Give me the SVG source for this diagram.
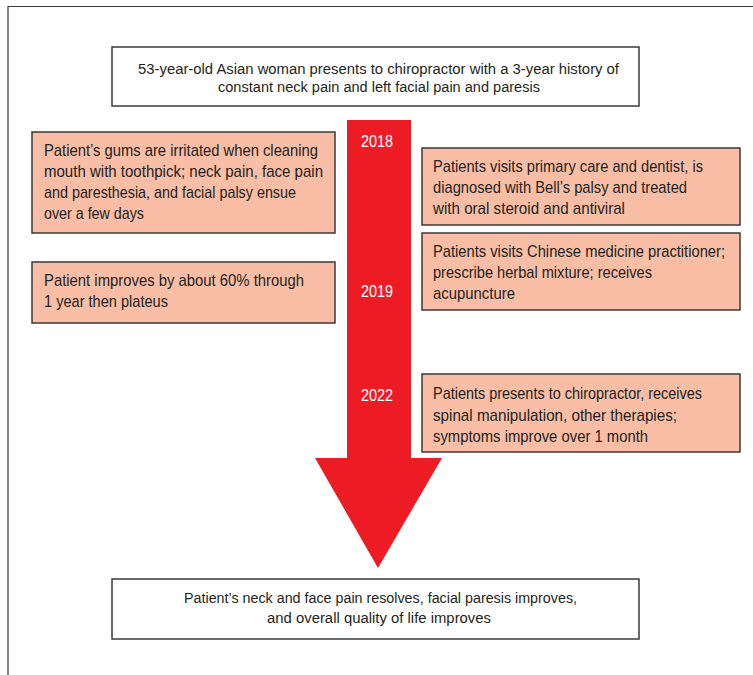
<svg xmlns="http://www.w3.org/2000/svg" width="753" height="675" viewBox="0 0 753 675">
<style>
.frame{fill:none;stroke:#3a3a3a;stroke-width:1.2}
.wbox{fill:#ffffff;stroke:#3a3a3a;stroke-width:1.5}
.pbox{fill:#F9BEA5;stroke:#3a3a3a;stroke-width:1.5}
.t{font-family:"Liberation Sans",Arial,sans-serif;fill:#231F20}
.t16{font-size:15.5px}
.t17{font-size:17px}
.yr{font-family:"Liberation Sans",Arial,sans-serif;font-size:17px;fill:#ffffff;text-anchor:middle}
</style>
<rect width="753" height="675" fill="#ffffff"/>
<path class="frame" d="M8 675 V6.5 H753"/>
<g id="connectors">
<path id="timeline-arrow" d="M347 120 H411 V458 H442 L378 568 L315 458 H347 Z" fill="#ED1C24"/>
</g>
<g id="year-2018"><text class="yr" x="377" y="147" textLength="32" lengthAdjust="spacingAndGlyphs">2018</text></g>
<g id="year-2019"><text class="yr" x="377" y="297" textLength="32" lengthAdjust="spacingAndGlyphs">2019</text></g>
<g id="year-2022"><text class="yr" x="377" y="401" textLength="32" lengthAdjust="spacingAndGlyphs">2022</text></g>
<g id="node-top">
<rect class="wbox" x="112" y="47" width="527" height="59"/>
<text class="t t16" x="138" y="74" textLength="481" lengthAdjust="spacingAndGlyphs">53-year-old Asian woman presents to chiropractor with a 3-year history of</text>
<text class="t t16" x="218" y="92" textLength="322" lengthAdjust="spacingAndGlyphs">constant neck pain and left facial pain and paresis</text>
</g>
<g id="node-gums">
<rect class="pbox" x="32" y="132" width="303" height="101"/>
<text class="t t17" x="44" y="156" textLength="274" lengthAdjust="spacingAndGlyphs">Patient’s gums are irritated when cleaning</text>
<text class="t t17" x="44" y="177" textLength="279" lengthAdjust="spacingAndGlyphs">mouth with toothpick; neck pain, face pain</text>
<text class="t t17" x="44" y="198" textLength="252" lengthAdjust="spacingAndGlyphs">and paresthesia, and facial palsy ensue</text>
<text class="t t17" x="44" y="219" textLength="100" lengthAdjust="spacingAndGlyphs">over a few days</text>
</g>
<g id="node-improves">
<rect class="pbox" x="32" y="262" width="303" height="61"/>
<text class="t t17" x="44" y="286" textLength="260" lengthAdjust="spacingAndGlyphs">Patient improves by about 60% through</text>
<text class="t t17" x="44" y="307" textLength="124" lengthAdjust="spacingAndGlyphs">1 year then plateus</text>
</g>
<g id="node-primary-care">
<rect class="pbox" x="422" y="148" width="318" height="77"/>
<text class="t t17" x="433" y="172" textLength="270" lengthAdjust="spacingAndGlyphs">Patients visits primary care and dentist, is</text>
<text class="t t17" x="433" y="193" textLength="254" lengthAdjust="spacingAndGlyphs">diagnosed with Bell’s palsy and treated</text>
<text class="t t17" x="433" y="214" textLength="192" lengthAdjust="spacingAndGlyphs">with oral steroid and antiviral</text>
</g>
<g id="node-chinese-medicine">
<rect class="pbox" x="422" y="233" width="318" height="77"/>
<text class="t t17" x="433" y="257" textLength="292" lengthAdjust="spacingAndGlyphs">Patients visits Chinese medicine practitioner;</text>
<text class="t t17" x="433" y="278" textLength="219" lengthAdjust="spacingAndGlyphs">prescribe herbal mixture; receives</text>
<text class="t t17" x="433" y="299" textLength="82" lengthAdjust="spacingAndGlyphs">acupuncture</text>
</g>
<g id="node-chiropractor">
<rect class="pbox" x="422" y="374" width="318" height="78"/>
<text class="t t17" x="433" y="399" textLength="269" lengthAdjust="spacingAndGlyphs">Patients presents to chiropractor, receives</text>
<text class="t t17" x="433" y="421" textLength="244" lengthAdjust="spacingAndGlyphs">spinal manipulation, other therapies;</text>
<text class="t t17" x="433" y="442" textLength="215" lengthAdjust="spacingAndGlyphs">symptoms improve over 1 month</text>
</g>
<g id="node-outcome">
<rect class="wbox" x="112" y="579" width="527" height="60"/>
<text class="t t16" x="184" y="603" textLength="393" lengthAdjust="spacingAndGlyphs">Patient’s neck and face pain resolves, facial paresis improves,</text>
<text class="t t16" x="267" y="623" textLength="224" lengthAdjust="spacingAndGlyphs">and overall quality of life improves</text>
</g>
</svg>
